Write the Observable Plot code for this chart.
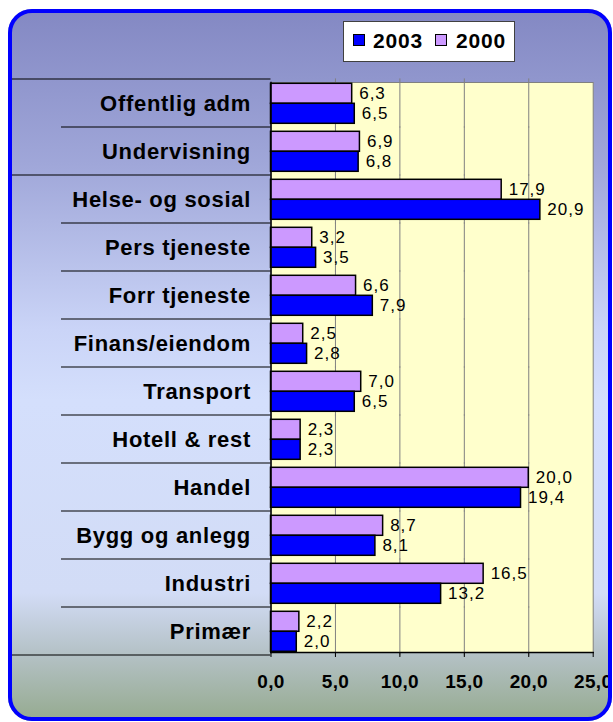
<!DOCTYPE html>
<html>
<head>
<meta charset="utf-8">
<script src="https://cdn.jsdelivr.net/npm/d3@7"></script>
<script src="https://cdn.jsdelivr.net/npm/@observablehq/plot@0.6"></script>
<style>
  html, body { margin: 0; padding: 0; background: #ffffff; }
  #wrap { position: relative; width: 613px; height: 722px; overflow: hidden; font-family: "Liberation Sans", Arial, sans-serif; }
  #bg { position: absolute; left: 8px; top: 9px; width: 604px; height: 712px; box-sizing: border-box; border-radius: 24px;
        background: linear-gradient(to bottom, #8388c3 0%, #a0a7d9 22%, #cad4f7 45%, #d4dffc 55%, #d2dcf6 82%, #b6c3c9 90%, #95aa8f 100%); }
  #border { position: absolute; left: 8px; top: 9px; width: 604px; height: 712px; box-sizing: border-box; border-radius: 24px;
        border: 4.5px solid #0000ff; pointer-events: none; }
  #chart { position: absolute; left: 0; top: 0; }
  #legend { position: absolute; left: 343px; top: 21px; width: 172px; height: 41px; box-sizing: border-box;
        background: #ffffff; border: 1px solid #404040; font-weight: bold; font-size: 21px; letter-spacing: 0.8px; }
  #legend .sw { position: absolute; top: 12px; width: 12px; height: 12px; border: 1px solid #000; box-sizing: border-box; }
  #legend .lb { position: absolute; top: 7px; line-height: 24px; }
</style>
</head>
<body>
<div id="wrap">
  <div id="bg"></div>
  <div id="chart"></div>
  <div id="legend"></div>
  <div id="border"></div>
</div>
<script>
const categories = ["Offentlig adm","Undervisning","Helse- og sosial","Pers tjeneste","Forr tjeneste","Finans/eiendom","Transport","Hotell & rest","Handel","Bygg og anlegg","Industri","Primær"];
const values2000 = [6.3, 6.9, 17.9, 3.2, 6.6, 2.5, 7.0, 2.3, 20.0, 8.7, 16.5, 2.2];
const values2003 = [6.5, 6.8, 20.9, 3.5, 7.9, 2.8, 6.5, 2.3, 19.4, 8.1, 13.2, 2.0];
const years = ["2000", "2003"];
const legendYears = ["2003", "2000"];
const colors = {"2003": "#0000ff", "2000": "#cc99ff"};
const xTicks = [0, 5, 10, 15, 20, 25];
const gridTicks = [5, 10, 15, 20];
const longSeparators = [0, 2, 12];

const fmt = d => d3.format(".1f")(d).replace(".", ",");

const data = categories.flatMap((c, i) => [
  {cat: c, year: "2000", v: values2000[i]},
  {cat: c, year: "2003", v: values2003[i]}
]);

const chart = Plot.plot({
  width: 613,
  height: 722,
  marginTop: 75.7,
  marginBottom: 64,
  marginLeft: 270.5,
  marginRight: 20.3,
  style: {background: "transparent", fontFamily: "'Liberation Sans', Arial, sans-serif", overflow: "visible"},
  x: {domain: [0, 25]},
  fy: {domain: categories, paddingInner: 0.13, paddingOuter: 0.065, label: null},
  y: {domain: years, axis: null, padding: 0},
  color: {domain: legendYears, range: legendYears.map(y => colors[y])},
  marks: [
    Plot.frame({fill: "#ffffcc", stroke: "#808080", facet: "super"}),
    Plot.ruleX(gridTicks, {stroke: "#808080", strokeWidth: 1, insetTop: -3.6, insetBottom: -3.6}),
    Plot.barX(data, {x: "v", y: "year", fy: "cat", fill: "year", stroke: "#000", strokeWidth: 1.5}),
    Plot.text(data, {x: "v", y: "year", fy: "cat", text: d => fmt(d.v), textAnchor: "start", dx: 7, fontSize: 17, fill: "#000"}),
    Plot.frame({anchor: "left", stroke: "#000", strokeWidth: 1.5, facet: "super"}),
    Plot.frame({anchor: "bottom", stroke: "#000", strokeWidth: 1.5, facet: "super"}),
    Plot.axisX({ticks: xTicks, tickFormat: fmt, tickSize: 5, tickPadding: 17, fontSize: 19, fontWeight: "bold", label: null, stroke: "#000"}),
    Plot.axisFy({anchor: "left", tickSize: 0, tickPadding: 20, fontSize: 22, fontWeight: "bold", label: null})
  ]
});

document.getElementById("chart").appendChild(chart);

const svg = d3.select(chart);
svg.selectAll('g[aria-label="fy-axis tick label"] text').style("letter-spacing", "0.7px");
svg.selectAll('g[aria-label="text"] text').style("letter-spacing", "1px");
svg.selectAll('g[aria-label="x-axis tick label"] text').style("letter-spacing", "0.3px");

// separators in the category column, placed from the facet scale
const fy = chart.scale("fy");
const x = chart.scale("x");
const gap = (fy.step - fy.bandwidth) / 2;
const bounds = categories.map(c => fy.apply(c) - gap);
bounds.push(fy.apply(categories[categories.length - 1]) + fy.bandwidth + gap);
const x0 = x.apply(0);
svg.append("g").selectAll("line").data(bounds).join("line")
  .attr("x1", (d, i) => longSeparators.includes(i) ? 12 : 61)
  .attr("x2", x0)
  .attr("y1", d => d).attr("y2", d => d)
  .attr("stroke", "#000").attr("stroke-width", 1.2);

// legend
const legend = document.getElementById("legend");
const swLeft = [9, 91];
const lbLeft = [29, 112];
legendYears.forEach((y, i) => {
  const sw = document.createElement("div");
  sw.className = "sw"; sw.style.left = swLeft[i] + "px"; sw.style.background = colors[y];
  const lb = document.createElement("div");
  lb.className = "lb"; lb.style.left = lbLeft[i] + "px"; lb.textContent = y;
  legend.appendChild(sw); legend.appendChild(lb);
});
</script>
</body>
</html>
